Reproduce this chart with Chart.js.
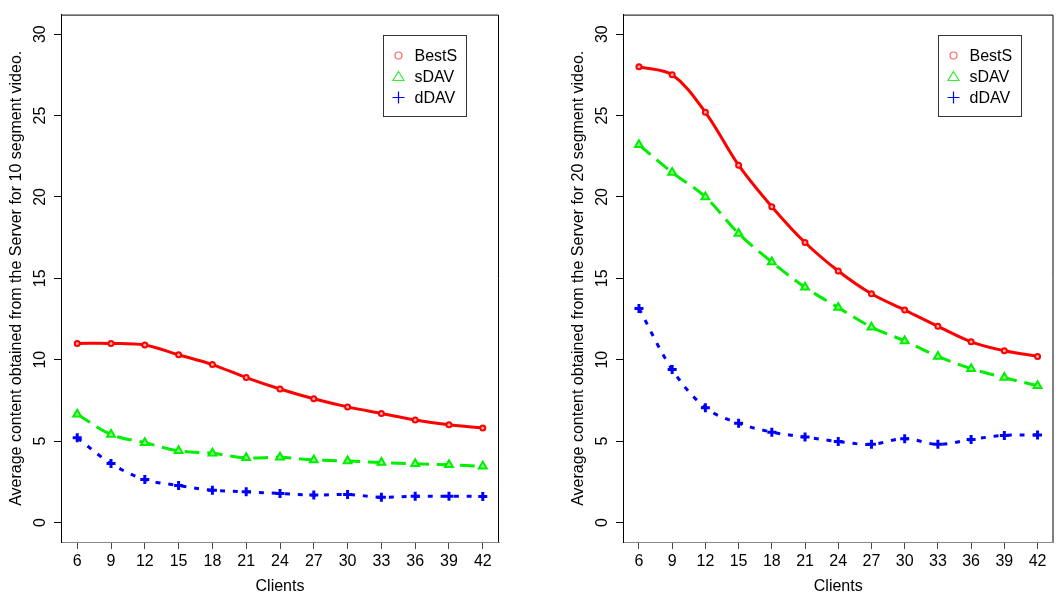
<!DOCTYPE html>
<html>
<head>
<meta charset="utf-8">
<script src="https://cdn.jsdelivr.net/npm/chart.js@4"></script>
<style>
  body { margin: 0; background: #fff; }
  #left { position: absolute; left: 0; top: 0; }
  #right { position: absolute; left: 530px; top: 0; }
</style>
</head>
<body>
<canvas id="left" width="530" height="594"></canvas>
<canvas id="right" width="531" height="594"></canvas>
<script>
"use strict"

const clients = [6, 9, 12, 15, 18, 21, 24, 27, 30, 33, 36, 39, 42];
const yTicks = [0, 5, 10, 15, 20, 25, 30];
const seriesNames = ['BestS', 'sDAV', 'dDAV'];

// 10 segment video
const bestS10 = [11.0, 11.0, 10.9, 10.3, 9.7, 8.9, 8.2, 7.6, 7.1, 6.7, 6.3, 6.0, 5.8];
const sDAV10 = [6.65, 5.4, 4.9, 4.4, 4.25, 3.97, 4.0, 3.84, 3.78, 3.68, 3.6, 3.54, 3.45];
const dDAV10 = [5.2, 3.62, 2.64, 2.27, 1.98, 1.88, 1.78, 1.68, 1.72, 1.55, 1.61, 1.61, 1.6];

// 20 segment video
const bestS20 = [28.0, 27.5, 25.2, 21.95, 19.4, 17.2, 15.45, 14.05, 13.05, 12.05, 11.1, 10.55, 10.2];
const sDAV20 = [23.2, 21.5, 20.0, 17.75, 16.0, 14.45, 13.2, 12.0, 11.15, 10.2, 9.45, 8.9, 8.4];
const dDAV20 = [13.15, 9.4, 7.05, 6.1, 5.55, 5.25, 4.97, 4.8, 5.15, 4.8, 5.1, 5.35, 5.37];

Chart.defaults.font.family = "'Liberation Sans', Arial, sans-serif";
Chart.defaults.font.size = 16;
Chart.defaults.color = '#000';

const styles = [
  { color: '#ff0000', dash: [], point: 'circle', radius: 2.5, pw: 2, fill: '#ffb0b0' },
  { color: '#00ee00', dash: [15, 8], point: 'triangle', radius: 4.5, pw: 2, fill: '#90ff90' },
  { color: '#0000ff', dash: [5, 8], point: 'cross', radius: 4.5, pw: 3, fill: '#0000ff' }
];

function toPoints(vals) {
  return clients.map((c, i) => ({ x: c, y: vals[i] }));
}

// box + legend, R style
const boxLegend = {
  id: 'boxLegend',
  afterDraw(chart) {
    const { ctx, chartArea: a } = chart;
    ctx.save();
    ctx.strokeStyle = '#000';
    ctx.lineWidth = 1;
    ctx.beginPath();
    ctx.moveTo(a.left + 0.5, a.bottom);
    ctx.lineTo(a.left + 0.5, a.top + 0.5);
    ctx.lineTo(a.right - 0.5, a.top + 0.5);
    ctx.lineTo(a.right - 0.5, a.bottom);
    ctx.stroke();

    const bx = Math.round(a.right - 33 - 83) + 0.5;
    const by = Math.round(a.top + 20) + 0.5;
    ctx.fillStyle = '#fff';
    ctx.fillRect(bx, by, 83, 81);
    ctx.strokeStyle = '#333';
    ctx.strokeRect(bx, by, 83, 81);

    const legendColors = ['#ff6666', '#33ee33', '#0000ff'];
    chart.data.datasets.forEach((ds, i) => {
      const cy = by + 20 + i * 21;
      const cx = bx + 15;
      ctx.strokeStyle = legendColors[i];
      ctx.lineWidth = 1.2;
      ctx.beginPath();
      if (i === 0) {
        ctx.arc(cx, cy, 3.5, 0, Math.PI * 2);
      } else if (i === 1) {
        ctx.moveTo(cx, cy - 5);
        ctx.lineTo(cx + 5.5, cy + 4);
        ctx.lineTo(cx - 5.5, cy + 4);
        ctx.closePath();
      } else {
        ctx.moveTo(cx - 6, cy);
        ctx.lineTo(cx + 6, cy);
        ctx.moveTo(cx, cy - 6);
        ctx.lineTo(cx, cy + 6);
      }
      ctx.stroke();
      ctx.fillStyle = '#000';
      ctx.font = "16px 'Liberation Sans', Arial, sans-serif";
      ctx.textBaseline = 'middle';
      ctx.textAlign = 'left';
      ctx.fillText(ds.label, bx + 31, cy + 1);
    });
    ctx.restore();
  }
};

function makePanel(id, title, series, padLeft, padRight) {
  new Chart(document.getElementById(id), {
    type: 'line',
    data: {
      datasets: series.map((vals, i) => ({
        label: seriesNames[i],
        data: toPoints(vals),
        borderColor: styles[i].color,
        borderWidth: 3,
        borderDash: styles[i].dash,
        tension: 0.35,
        pointStyle: styles[i].point,
        pointRadius: styles[i].radius,
        pointBorderWidth: styles[i].pw,
        pointBorderColor: styles[i].color,
        pointBackgroundColor: styles[i].fill,
        fill: false
      }))
    },
    options: {
      responsive: false,
      animation: false,
      devicePixelRatio: 1,
      layout: { padding: { left: padLeft, right: padRight, top: 12, bottom: 0 } },
      plugins: { legend: { display: false }, tooltip: { enabled: false } },
      scales: {
        x: {
          type: 'linear',
          min: 4.56,
          max: 43.44,
          afterBuildTicks: s => { s.ticks = clients.map(v => ({ value: v })); },
          afterFit: s => { s.height = 52; },
          grid: { drawOnChartArea: false, tickLength: 7, color: '#444' },
          border: { color: '#888' },
          ticks: { padding: 3, maxRotation: 0, autoSkip: false },
          title: { display: true, text: 'Clients', padding: { top: 0, bottom: -2 } }
        },
        y: {
          min: -1.2,
          max: 31.2,
          afterBuildTicks: s => { s.ticks = yTicks.map(v => ({ value: v })); },
          afterFit: s => { s.width = 61; },
          grid: { drawOnChartArea: false, tickLength: 7, color: '#000' },
          border: { color: '#000' },
          ticks: { minRotation: 90, maxRotation: 90, crossAlign: 'center', padding: 5 },
          title: { display: true, text: title, padding: { top: 7, bottom: 0 } }
        }
      }
    },
    plugins: [boxLegend]
  });
}

makePanel('left', 'Average content obtained from the Server for 10 segment video.',
  [bestS10, sDAV10, dDAV10], 0, 31);
makePanel('right', 'Average content obtained from the Server for 20 segment video.',
  [bestS20, sDAV20, dDAV20], 32, 1);
</script>
</body>
</html>
